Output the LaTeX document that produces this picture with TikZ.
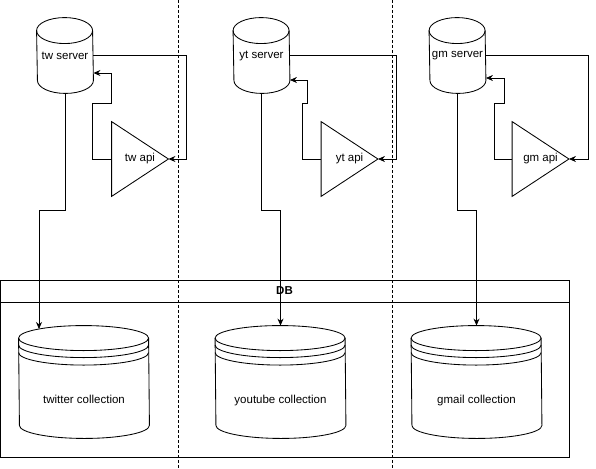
\documentclass[tikz,border=0pt]{standalone}
\usepackage{fontspec}
\setmainfont{Liberation Sans}
\usetikzlibrary{positioning,arrows.meta}

\tikzset{
  link/.style={-{Stealth[length=7pt,width=6pt]}},
  srv/.style={minimum width=56pt, minimum height=75pt, inner sep=0pt},
  api/.style={minimum width=56pt, minimum height=74pt, inner sep=0pt},
  coll/.style={minimum width=130pt, minimum height=112pt, inner sep=0pt},
  lane/.style={dash pattern=on 3pt off 2pt, line width=0.7pt},
  dbbox/.style={draw, minimum width=569pt, inner sep=0pt, outer sep=0pt},
  every label/.style={text height=8pt, text depth=2pt}
}

% shapes drawn round the named nodes
\newcommand{\srvdrum}[1]{%
  \draw ([yshift=-13pt]#1.north west) arc[start angle=180,end angle=0,x radius=28pt,y radius=13pt]
    -- ([yshift=13pt]#1.south east) arc[start angle=0,end angle=-180,x radius=28pt,y radius=13pt] -- cycle;
  \draw ([yshift=-13pt]#1.north west) arc[start angle=180,end angle=360,x radius=28pt,y radius=13pt];}
\newcommand{\apitri}[1]{\draw (#1.north west) -- (#1.east) -- (#1.south west) -- cycle;}
\newcommand{\colldrum}[1]{%
  \draw ([yshift=-12.5pt]#1.north west) arc[start angle=180,end angle=0,x radius=65pt,y radius=12.5pt]
    -- ([yshift=13pt]#1.south east) arc[start angle=0,end angle=-180,x radius=65pt,y radius=13pt] -- cycle;
  \foreach \s in {12.5,19.5,27}
    \draw ([yshift=-\s pt]#1.north west) arc[start angle=180,end angle=360,x radius=65pt,y radius=12.5pt];}

\begin{document}
\begin{tikzpicture}[x=1pt, y=-1pt, line width=0.85pt, font=\fontsize{11.5}{13}\selectfont]
  \useasboundingbox (0,0) rectangle (596,468);

  % lanes
  \draw[lane] (178,0) -- (178,468);
  \draw[lane] (392,0) -- (392,468);

  % servers and apis
  \node[srv] (twsrv) at (65,55.5) {tw server};
  \node[srv] (ytsrv) at (261.5,55.5) {yt server};
  \node[srv] (gmsrv) at (457.5,55.5) {gm server};
  \srvdrum{twsrv} \srvdrum{ytsrv} \srvdrum{gmsrv}

  \node[api] (twapi) at (140,159) {tw api};
  \node[api] (ytapi) at (349.5,159) {yt api};
  \node[api] (gmapi) at (540.5,159) {gm api};
  \apitri{twapi} \apitri{ytapi} \apitri{gmapi}

  % DB
  \node[dbbox, minimum height=22pt, font=\fontsize{11.5}{13}\selectfont\bfseries] (dbhead) at (284.5,291) {DB};
  \node[dbbox, minimum height=155pt, below=0pt of dbhead] (dbbody) {};

  \node[coll, label={[yshift=-18pt]center:twitter collection}] (twcoll) at (84,382) {};
  \node[coll, label={[yshift=-18pt]center:youtube collection}] (ytcoll) at (280.5,382) {};
  \node[coll, label={[yshift=-18pt]center:gmail collection}] (gmcoll) at (476.5,382) {};
  \colldrum{twcoll} \colldrum{ytcoll} \colldrum{gmcoll}
  \coordinate (twin) at (39,329);

  % server -> api
  \draw[link] (twsrv.east) -- ++(93,0) |- (twapi.east);
  \draw[link] (ytsrv.east) -- ++(106.5,0) |- (ytapi.east);
  \draw[link] (gmsrv.east) -- ++(102.5,0) |- (gmapi.east);

  % api -> server
  \draw[link] (twapi.west) -- ++(-19,0) -- ++(0,-56) -- ++(19,0) |- ([yshift=-17.5pt]twsrv.east);
  \draw[link] (ytapi.west) -- ++(-19,0) -- ++(0,-56) -- ++(5,0) |- ([yshift=-24.5pt]ytsrv.east);
  \draw[link] (gmapi.west) -- ++(-18,0) -- ++(0,-56) -- ++(10,0) |- ([yshift=-22.5pt]gmsrv.east);

  % server -> collection
  \draw[link] (twsrv.south) -- ++(0,117) -| (twin);
  \draw[link] (ytsrv.south) -- ++(0,117) -| (ytcoll.north);
  \draw[link] (gmsrv.south) -- ++(0,117) -| (gmcoll.north);
\end{tikzpicture}
\end{document}
